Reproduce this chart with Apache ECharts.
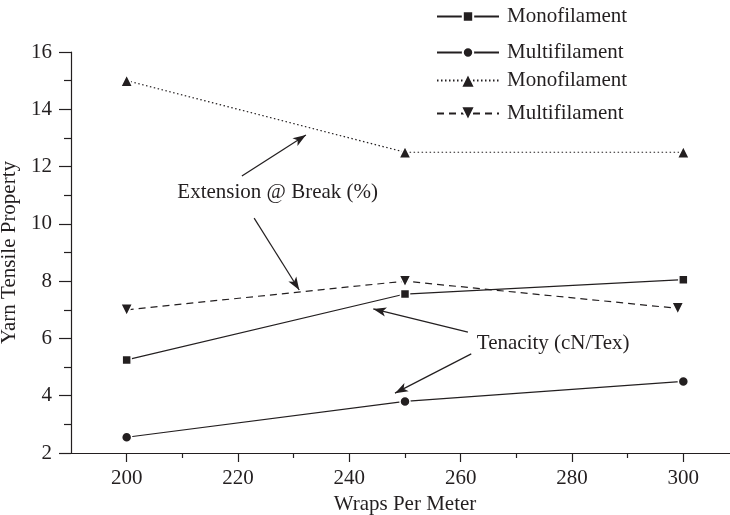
<!DOCTYPE html>
<html>
<head>
<meta charset="utf-8">
<script src="https://cdn.jsdelivr.net/npm/echarts@6/dist/echarts.min.js"></script>
<style>
  html, body { margin: 0; padding: 0; background: #fff; }
  #main { width: 730px; height: 515px; }
</style>
</head>
<body>
<div id="main"></div>
<script>
// data
var wraps = [200, 250, 300];
var monoTenacity = [5.25, 7.55, 8.05];
var multiTenacity = [2.55, 3.8, 4.5];
var monoExtension = [15, 12.5, 12.5];
var multiExtWraps = [200, 250, 299];
var multiExtension = [7, 8, 7.05];

var xTicks = [200, 220, 240, 260, 280, 300];
var xMinorTicks = [210, 230, 250, 270, 290];
var yTicks = [2, 4, 6, 8, 10, 12, 14, 16];

var ink = '#231f20';
var font = 'Liberation Serif';
var fs = 21;

function pairs(xs, ys) {
    var out = [];
    for (var i = 0; i < xs.length; i++) {
        out.push([xs[i], ys[i]]);
    }
    return out;
}

var myChart = echarts.init(document.getElementById('main'), null, {renderer: 'canvas'});

var seriesDefs = [
    {name: 'Monofilament|ten', data: pairs(wraps, monoTenacity), symbol: 'rect', size: 9, type: 'solid', icon: 13},
    {name: 'Multifilament|ten', data: pairs(wraps, multiTenacity), symbol: 'circle', size: 10, type: 'solid', icon: 13},
    {name: 'Monofilament|ext', data: pairs(wraps, monoExtension), symbol: 'triangle', size: 12, type: [1.5, 2.5], icon: 18},
    {name: 'Multifilament|ext', data: pairs(multiExtWraps, multiExtension), symbol: 'triangle', size: 12, rotate: 180, type: [7, 5], icon: 18}
];

var series = [];
var legends = [];
var legendTops = [1, 37, 65, 98];
for (var i = 0; i < seriesDefs.length; i++) {
    var d = seriesDefs[i];
    series.push({
        name: d.name,
        type: 'line',
        data: d.data,
        symbol: d.symbol,
        symbolSize: d.size,
        symbolRotate: d.rotate || 0,
        showAllSymbol: true,
        itemStyle: {color: ink, borderColor: '#fff', borderWidth: 1.5},
        lineStyle: {color: ink, width: 1.2, type: d.type},
        emphasis: {disabled: true},
        z: 3
    });
    legends.push({
        data: [d.name],
        left: 431,
        top: legendTops[i],
        itemWidth: 62,
        itemHeight: d.icon,
        itemGap: 0,
        selectedMode: false,
        formatter: function (name) {
            return name.split('|')[0];
        },
        textStyle: {fontFamily: font, fontSize: fs, color: ink, padding: [0, 0, 0, 3]}
    });
}

// arrows for the annotations
series.push({
    name: 'arrows',
    type: 'line',
    data: [],
    silent: true,
    markLine: {
        silent: true,
        symbol: ['none', 'arrow'],
        symbolSize: [7, 13],
        label: {show: false},
        lineStyle: {color: ink, width: 1.2, type: 'solid'},
        emphasis: {disabled: true},
        data: [
            [{coord: [220.7, 11.67]}, {coord: [232.2, 13.1]}],
            [{coord: [222.9, 10.2]}, {coord: [231.0, 7.69]}],
            [{coord: [261.3, 6.22]}, {coord: [244.3, 7.03]}],
            [{coord: [261.9, 5.46]}, {coord: [248.2, 4.09]}]
        ]
    }
});

var option = {
    animation: false,
    backgroundColor: '#fff',
    textStyle: {fontFamily: font},
    legend: legends,
    grid: {left: 71, top: 52, width: 668, height: 401, containLabel: false, outerBoundsMode: 'none'},
    xAxis: [
        {
            type: 'value',
            min: 190,
            max: 310,
            name: 'Wraps Per Meter',
            nameLocation: 'middle',
            nameGap: 31,
            nameTextStyle: {fontFamily: font, fontSize: fs, color: ink},
            axisLine: {lineStyle: {color: ink, width: 1.2}},
            axisTick: {show: true, length: 9, customValues: xTicks, lineStyle: {color: ink, width: 1.2}},
            axisLabel: {customValues: xTicks, margin: 15, fontFamily: font, fontSize: fs, color: ink},
            splitLine: {show: false}
        },
        {
            type: 'value',
            position: 'bottom',
            min: 190,
            max: 310,
            axisLine: {show: false},
            axisTick: {show: true, length: 5, customValues: xMinorTicks, lineStyle: {color: ink, width: 1.2}},
            axisLabel: {show: false},
            splitLine: {show: false}
        }
    ],
    yAxis: {
        type: 'value',
        min: 2,
        max: 16,
        interval: 2,
        name: 'Yarn Tensile Property',
        nameLocation: 'middle',
        nameGap: 36,
        nameTextStyle: {fontFamily: font, fontSize: fs, color: ink},
        axisLine: {show: true, lineStyle: {color: ink, width: 1.2}},
        axisTick: {show: true, length: 12, lineStyle: {color: ink, width: 1.2}},
        minorTick: {show: true, splitNumber: 2, length: 7, lineStyle: {color: ink, width: 1.2}},
        axisLabel: {margin: 19, fontFamily: font, fontSize: fs, color: ink,
            customValues: yTicks},
        splitLine: {show: false}
    },
    series: series
};

myChart.setOption(option);

// annotation texts placed in data space
var p1 = myChart.convertToPixel({gridIndex: 0}, [209.1, 11.08]);
var p2 = myChart.convertToPixel({gridIndex: 0}, [262.9, 5.84]);
myChart.setOption({
    graphic: [
        {type: 'text', x: p1[0], y: p1[1], style: {text: 'Extension @ Break (%)', fontFamily: font, fontSize: fs, fill: ink, verticalAlign: 'middle'}},
        {type: 'text', x: p2[0], y: p2[1], style: {text: 'Tenacity (cN/Tex)', fontFamily: font, fontSize: fs, fill: ink, verticalAlign: 'middle'}}
    ]
});
</script>
</body>
</html>
